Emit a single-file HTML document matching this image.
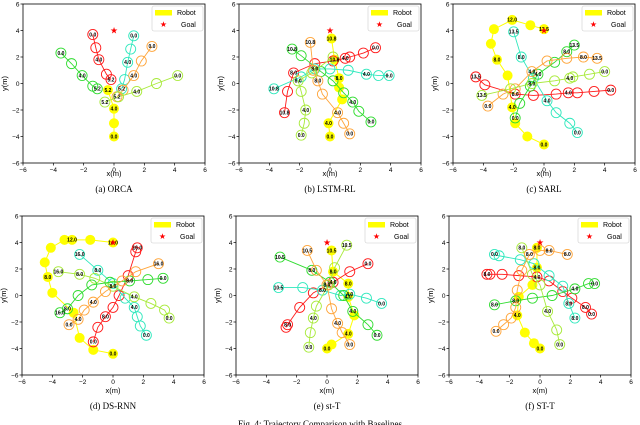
<!DOCTYPE html>
<html><head><meta charset="utf-8"><style>
body{margin:0;background:#fff;}
svg{display:block;}
text{font-family:"Liberation Sans",sans-serif;}
.cap{font-family:"Liberation Serif",serif;font-size:9px;}
</style></head><body>
<svg id="fig" width="640" height="425" viewBox="0 0 640 425" xmlns="http://www.w3.org/2000/svg"></svg>
<script>
// ---- data: each point [x(m), y(m), label] ----
const ticks = [-6,-4,-2,0,2,4,6];
const tickLabels = ['−6','−4','−2','0','2','4','6'];
const goal = [0,4];

const orcaRed=[[-1.4,3.7,'0.0'],[-1.2,2.7],[-1,1.8,'4.0'],[-0.5,0.7],[-0.2,0.3,'5.2']];
const orcaCyan=[[1.3,3.6,'0.0'],[1.1,2.6],[0.9,1.6,'4.0'],[0.7,0.3],[0.5,-0.4,'5.2']];
const orcaOrange=[[2.5,2.8,'0.0'],[1.8,1.7],[1.3,0.6,'4.0'],[0.6,-0.5],[0.2,-1,'5.2']];
const orcaGreen=[[-3.5,2.3,'0.0'],[-2.8,1.5],[-2.1,0.6,'4.0'],[-1.4,-0.2],[-1.1,-0.4,'5.2']];
const orcaLime=[[4.2,0.6,'0.0'],[2.8,0],[1.5,-0.6,'4.0'],[0.3,-1],[-0.6,-1.4,'5.2']];
const orcaRobot=[[0,-4,'0.0'],[0,-3],[0,-1.9,'4.0'],[-0.4,-0.5,'5.2']];

const lstmRed=[[3,2.7,'0.0'],[2.2,2.3],[1.3,2],[1,1.9,'4.0'],[0.2,1.7],[-1,1.5],[-2.4,0.8,'8.0'],[-2.8,-0.6],[-3,-2.2,'10.8']];
const lstmCyan=[[3.9,0.6,'0.0'],[3.2,0.6],[2.4,0.7,'4.0'],[1.2,1],[0,1.1],[-1,1.1,'8.0'],[-1.9,0.5],[-3.7,-0.4,'10.8']];
const lstmGreen=[[2.7,-2.9,'0.0'],[1.9,-2.1],[1.5,-1.4,'4.0'],[0.9,-0.7],[0.2,0.2],[-0.6,0.9],[-1.9,2.1],[-2.5,2.6,'10.8']];
const lstmOrange=[[1.3,-3.8,'0.0'],[0.9,-3.0],[0.5,-2.2,'4.0'],[-0.5,-0.8],[-0.8,0.2,'8.0'],[-1.1,1],[-1.3,3.1,'10.8']];
const lstmLime=[[-1.9,-3.9,'0.0'],[-1.7,-3.0],[-1.6,-2,'4.0'],[-1.9,-0.6],[-2.1,0.2,'8.0'],[-1.2,0.8],[0.2,2.0]];
const lstmRobot=[[0,-4,'0.0'],[-0.1,-3,'4.0'],[0.8,-1.2],[0.6,-0.3],[0.6,0.4,'8.0'],[0.3,1.8,'10.8'],[0.1,3.4,'10.8']];

const sarlRed=[[4.4,-0.5,'0.0'],[3.3,-0.6],[2.2,-0.7],[1.6,-0.7,'4.0'],[0.8,-0.8],[-0.7,-0.9],[-1.9,-0.8,'8.0'],[-3.9,-0.1],[-4.5,0.5,'13.5']];
const sarlCyan=[[2.2,-3.7,'0.0'],[1.7,-3.0],[0.8,-2.2],[0.2,-1.3,'4.0'],[-0.7,0.4],[-1.5,2,'8.0'],[-2,3.9,'13.5']];
const sarlGreen=[[-1.9,-2.6,'0.0'],[-1.6,-1.5],[-0.9,-0.2],[-0.4,0.7,'4.0'],[0.7,1.6],[1.5,2.4,'8.0'],[2,2.9,'13.5']];
const sarlOrange=[[-3.7,-1.7,'0.0'],[-2.7,-0.8],[-1.9,-0.4],[-0.8,0.9,'4.0'],[0.2,1.7],[1.5,1.9],[2.6,2,'8.0'],[3.5,1.9,'13.5']];
const sarlLime=[[4,0.9,'0.0'],[3,0.7],[1.9,0.5],[1.7,0.4,'4.0'],[0.7,0.2],[-0.8,0,'8.0'],[-2.2,-0.4],[-4.1,-0.9,'13.5']];
const sarlRobot=[[0,-4.6,'0.0'],[-1.1,-4],[-1.9,-3],[-2.1,-1.8,'4.0'],[-2.4,0.6],[-3.1,1.8,'8.0'],[-3.5,3],[-3.3,4.1],[-2.1,4.8,'12.0'],[-0.9,4.4],[0,4.1,'13.5']];

const dsRed=[[-1.3,-3.5,'0.0'],[-1,-2.4],[-0.5,-1.6,'8.0'],[0,-0.9],[0.4,0],[1,1.5],[1.5,3.3],[1.6,3.6,'16.0']];
const dsCyan=[[2.2,-3,'0.0'],[1.8,-2.3],[1.6,-1.6],[1.4,-0.9,'4.0'],[0.8,-0.2],[0,0.9],[-1,1.9,'8.0'],[-2.2,3.1,'16.0']];
const dsLime=[[3.7,-1.7,'0.0'],[3.4,-1.1],[2.5,-0.6],[1.4,-0.1,'4.0'],[0,0.7,'8.0'],[-1.2,1.3],[-2.2,1.6,'8.0'],[-3.6,1.8,'16.0']];
const dsGreen=[[3.3,1.3,'0.0'],[2.3,1.2],[1.1,1.1,'8.0'],[-0.2,1.0],[-1.4,0.8],[-2.3,0],[-3,-1,'8.0'],[-3.5,-1.3,'16.0']];
const dsOrange=[[-2.9,-2.2,'0.0'],[-2.3,-1.8,'4.0'],[-1.9,-1.1],[-1.3,-0.5,'4.0'],[-0.5,0.3],[0.6,1.1],[1.5,1.8],[3,2.4,'16.0']];
const dsRobot=[[0,-4.4,'0.0'],[-1.3,-4.1],[-2.2,-3.2],[-2.6,-1.3],[-4,0.2],[-4.3,1.4,'8.0'],[-4.5,2.5],[-4.1,3.6],[-3.2,4.2],[-2.7,4.2,'12.0'],[-1.5,4.2],[0,4,'14.0']];

const stRed=[[2.7,2.4,'0.0'],[1.5,1.8],[0.4,1.0,'4.0'],[-0.9,0.2],[-1.8,-0.9],[-2.6,-2.2,'8.0'],[-2.7,-2.4]];
const stCyan=[[3.6,-0.6,'0.0'],[2.6,-0.2],[1.5,0.1,'4.0'],[0.9,0.0],[-0.3,0.4,'8.0'],[-1.6,0.6],[-3.2,0.6,'10.5']];
const stGreen=[[3.3,-3,'0.0'],[2.7,-2.2],[1.7,-1.2,'4.0'],[1.1,0],[0.2,1.0],[-1,1.9,'8.0'],[-3.1,2.9,'10.5']];
const stLime=[[-1.2,-3.9,'0.0'],[-1.1,-2.8],[-0.9,-1.7,'4.0'],[-0.7,-0.8],[0.1,0.8],[0.5,2.1],[1.3,3.8,'10.5']];
const stOrange=[[1.5,-3.7,'0.0'],[1,-2.8],[0.7,-2.1,'4.0'],[0.3,-1],[0,0.8,'8.0'],[-0.7,1.9],[-1.3,3.4,'10.5']];
const stRobot=[[0,-4,'0.0'],[0.3,-3.7],[1.4,-2.9,'4.0'],[1.8,-1.5],[1.4,-0.1,'4.0'],[1.4,0.9,'8.0'],[0.4,1.8,'8.0'],[0.3,3.4,'10.5']];

const sttRed=[[3.4,-1.4,'0.0'],[3,-0.9,'8.0'],[2.1,-0.2],[1.5,0.3],[0.6,1.1],[-0.2,1.4,'4.0'],[-1.4,1.5],[-2.5,1.6],[-3.3,1.6],[-3.5,1.6,'8.0']];
const sttCyan=[[2.3,-1.7,'8.0'],[1.9,-0.6,'8.0'],[1.5,0.7],[0.6,1.5],[-0.4,2.4],[-1.3,2.7],[-2.7,3],[-3,3.1,'0.0']];
const sttGreen=[[3.6,0.9,'0.0'],[3.2,0.9],[2.3,0.5,'4.0'],[0.8,0.0],[-0.5,-0.2],[-1.6,-0.4,'8.0'],[-3,-0.7,'8.0']];
const sttLime=[[1.3,-3.7,'0.0'],[1.1,-2.6],[0.5,-1.2,'4.0'],[0,0.8],[-0.5,1.6],[-1.2,3.6,'8.0']];
const sttOrange=[[-2.9,-2.7,'0.0'],[-2.4,-2.2],[-1.9,-1.7],[-1.6,-0.9],[-1.5,0.4],[-1.2,1.9],[-0.7,3.1,'8.0'],[0,3.4],[0.6,3.4,'8.0'],[1.8,3.1,'8.0']];
const sttRobot=[[0,-4,'0.0'],[-0.4,-3.6],[-1,-2.8],[-1.5,-1.5,'4.0'],[-1.4,-0.1],[-0.5,0.8],[-0.2,2.1,'8.0'],[-0.2,3.6,'8.0']];

const C={red:'#ff1a1a',cyan:'#2fe8bd',green:'#2fdc2f',orange:'#ffa53a',lime:'#a8ea3a',robot:'#ffff00'};
const panels=[
 {name:'orca',cap:'(a) ORCA',L:23,T:4,capY:192,xlY:176,agents:[[orcaRed,'red'],[orcaCyan,'cyan'],[orcaOrange,'orange'],[orcaGreen,'green'],[orcaLime,'lime']],robot:orcaRobot},
 {name:'lstm-rl',cap:'(b) LSTM-RL',L:239,T:4,capY:192,xlY:176,agents:[[lstmRed,'red'],[lstmCyan,'cyan'],[lstmGreen,'green'],[lstmOrange,'orange'],[lstmLime,'lime']],robot:lstmRobot},
 {name:'sarl',cap:'(c) SARL',L:453,T:4,capY:192,xlY:176,agents:[[sarlRed,'red'],[sarlCyan,'cyan'],[sarlGreen,'green'],[sarlOrange,'orange'],[sarlLime,'lime']],robot:sarlRobot},
 {name:'ds-rnn',cap:'(d) DS-RNN',L:22,T:216,capY:409,xlY:393,agents:[[dsRed,'red'],[dsCyan,'cyan'],[dsLime,'lime'],[dsGreen,'green'],[dsOrange,'orange']],robot:dsRobot},
 {name:'st-t-lower',cap:'(e) st-T',L:236,T:216,capY:409,xlY:393,agents:[[stRed,'red'],[stCyan,'cyan'],[stGreen,'green'],[stLime,'lime'],[stOrange,'orange']],robot:stRobot},
 {name:'st-t-upper',cap:'(f) ST-T',L:449,T:216,capY:409,xlY:393,agents:[[sttRed,'red'],[sttCyan,'cyan'],[sttGreen,'green'],[sttLime,'lime'],[sttOrange,'orange']],robot:sttRobot}
];
const W=182,H=159;
const NS='http://www.w3.org/2000/svg';
const svg=document.getElementById('fig');
function mk(tag,attrs,parent,txt){const e=document.createElementNS(NS,tag);for(const k in attrs)e.setAttribute(k,attrs[k]);if(txt!==undefined)e.textContent=txt;parent.appendChild(e);return e;}

panels.forEach(p=>{
 const sx=v=>p.L+(v+6)/12*W, sy=v=>p.T+(6-v)/12*H, r=0.33/12*W;
 const g=mk('g',{},svg);
 
 
 mk('clipPath',{id:'clip-'+p.name},g).appendChild((()=>{const c=document.createElementNS(NS,'rect');c.setAttribute('x',p.L);c.setAttribute('y',p.T);c.setAttribute('width',W);c.setAttribute('height',H);return c;})());
 const plot=mk('g',{'clip-path':'url(#clip-'+p.name+')'},g);
 
 
 // robot
 const rg=mk('g',{},plot);
 
 
 mk('polyline',{points:p.robot.map(q=>sx(q[0])+','+sy(q[1])).join(' '),fill:'none',stroke:C.robot,'stroke-width':1},rg);
 p.robot.forEach(q=>{const c=mk('circle',{cx:sx(q[0]),cy:sy(q[1]),r:r,fill:C.robot},rg);
  
  });
 // humans
 p.agents.forEach(([pts,col])=>{
  const ag=mk('g',{},plot);
  
  
  mk('polyline',{points:pts.map(q=>sx(q[0])+','+sy(q[1])).join(' '),fill:'none',stroke:C[col],'stroke-width':0.9},ag);
  pts.forEach(q=>{const c=mk('circle',{cx:sx(q[0]),cy:sy(q[1]),r:r,fill:'none',stroke:C[col],'stroke-width':0.9},ag);
   
   });
 });
 // labels
 const lg=mk('g',{},plot);
 
 
 [p.robot,...p.agents.map(a=>a[0])].forEach(pts=>pts.forEach(q=>{if(q[2]){mk('text',{x:sx(q[0]),y:sy(q[1])+1.8,'font-size':5,'font-weight':'bold','text-anchor':'middle',fill:'#000'},lg,q[2]);}}));
 // goal star
 const st=mk('text',{x:sx(goal[0]),y:sy(goal[1])+3,'font-size':9,'text-anchor':'middle',fill:'#ff0000'},plot,'★');
 
 
 // frame
 const fr=mk('rect',{x:p.L,y:p.T,width:W,height:H,fill:'none',stroke:'#000','stroke-width':0.8},g);
 
 
 // ticks
 const xa=mk('g',{},g);
 
 
 const ya=mk('g',{},g);
 
 
 ticks.forEach((t,i)=>{
  mk('line',{x1:sx(t),x2:sx(t),y1:p.T+H,y2:p.T+H+2.5,stroke:'#000','stroke-width':0.7},xa);
  mk('text',{x:sx(t),y:p.T+H+9,'font-size':6.5,'text-anchor':'middle'},xa,tickLabels[i]);
  mk('line',{x1:p.L-2.5,x2:p.L,y1:sy(t),y2:sy(t),stroke:'#000','stroke-width':0.7},ya);
  mk('text',{x:p.L-3.5,y:sy(t)+2.3,'font-size':6.5,'text-anchor':'end'},ya,tickLabels[i]);
 });
 const xl=mk('text',{x:p.L+W/2,y:p.xlY,'font-size':7.5,'text-anchor':'middle'},g,'x(m)');
 
 
 const yx=p.L-16, yy=p.T+H/2;
 const yl=mk('text',{x:yx,y:yy,'font-size':7.5,'text-anchor':'middle',transform:'rotate(-90 '+yx+' '+yy+')'},g,'y(m)');
 
 
 // legend
 const lgd=mk('g',{},g);
 
 
 const bx=p.L+W-53, by=p.T+2;
 mk('rect',{x:bx,y:by,width:51,height:25,rx:2,fill:'#fff',stroke:'#ccc','stroke-width':0.6},lgd);
 mk('rect',{x:bx+3,y:by+4,width:17,height:5.5,fill:C.robot},lgd);
 mk('text',{x:bx+25,y:by+9,'font-size':7},lgd,'Robot');
 mk('text',{x:bx+11.5,y:by+21,'font-size':8,'text-anchor':'middle',fill:'#ff0000'},lgd,'★');
 mk('text',{x:bx+29,y:by+21,'font-size':7},lgd,'Goal');
 const cp=mk('text',{x:p.L+W/2,y:p.capY,'text-anchor':'middle',class:'cap'},g,p.cap);
 
 
});
const fc=mk('text',{x:320,y:427,'text-anchor':'middle',class:'cap'},svg,'Fig. 4: Trajectory Comparison with Baselines');


</script>
</body></html>
